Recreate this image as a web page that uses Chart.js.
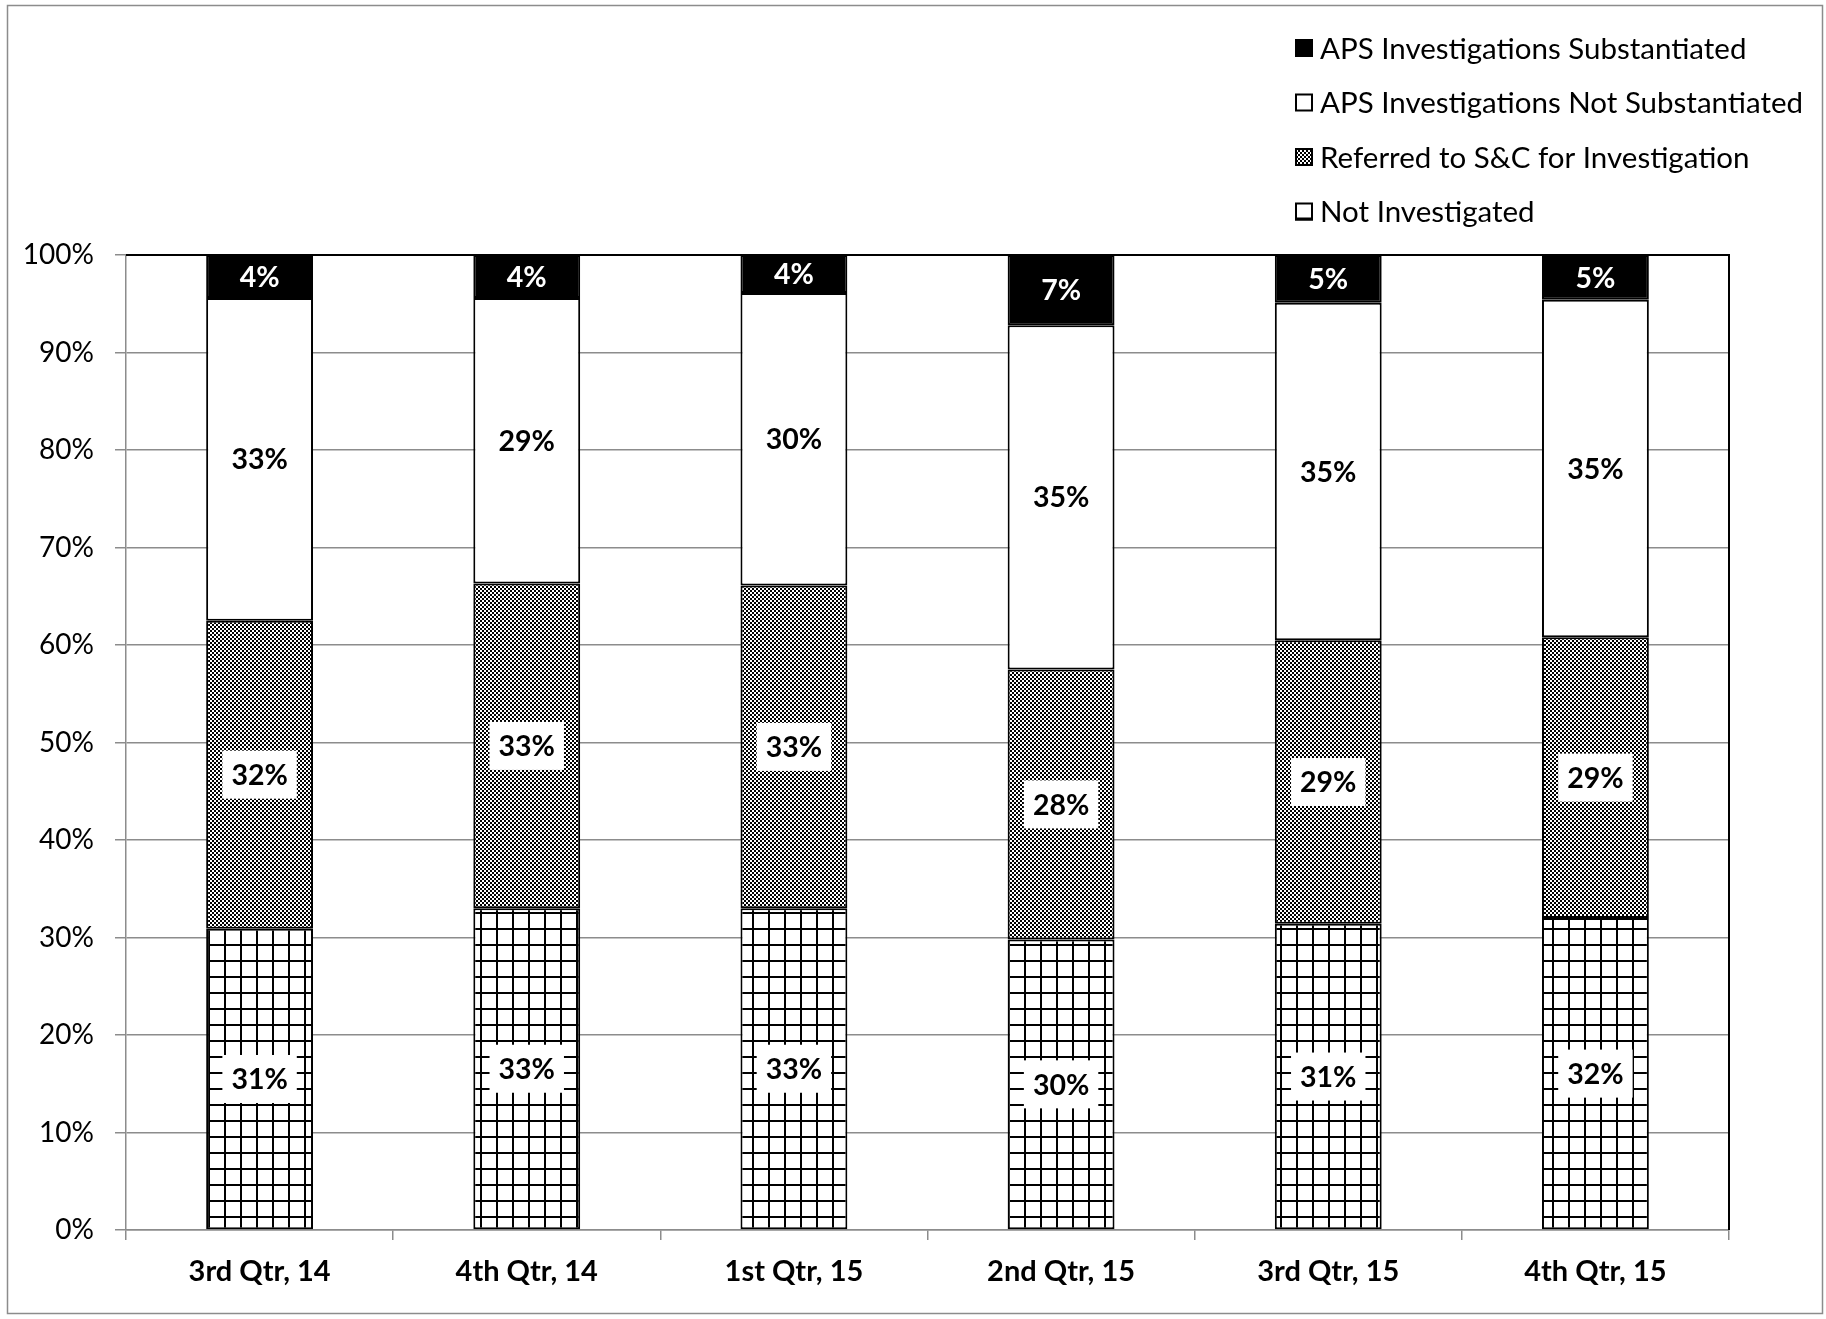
<!DOCTYPE html>
<html>
<head>
<meta charset="utf-8">
<script src="https://cdn.jsdelivr.net/npm/chart.js@4.4.0/dist/chart.umd.min.js"></script>
<style>
  body { margin: 0; background: #fff; }
  #wrap { width: 1826px; height: 1319px; }
</style>
</head>
<body>
<div id="wrap"><canvas id="myChart" width="1826" height="1319"></canvas></div>
<script>
const trimestres = ['3rd Qtr, 14', '4th Qtr, 14', '1st Qtr, 15', '2nd Qtr, 15', '3rd Qtr, 15', '4th Qtr, 15'];
const naoInvestigado = [30.9, 33.0, 33.0, 29.8, 31.4, 32.0];
const encaminhado = [31.6, 33.3, 33.1, 27.7, 29.1, 28.8];
const naoComprovado = [33.1, 29.3, 30.0, 35.3, 34.6, 34.6];
const comprovado = [4.4, 4.4, 3.9, 7.2, 4.9, 4.6];
const ticksY = [0, 10, 20, 30, 40, 50, 60, 70, 80, 90, 100];

const canvas = document.getElementById('myChart');
const ctx = canvas.getContext('2d');

function padraoXadrez() {
  const c = document.createElement('canvas');
  c.width = 4; c.height = 4;
  const g = c.getContext('2d');
  g.fillStyle = '#fff'; g.fillRect(0, 0, 4, 4);
  g.fillStyle = '#000'; g.fillRect(0, 0, 2, 2); g.fillRect(2, 2, 2, 2);
  return ctx.createPattern(c, 'repeat');
}

function padraoGrade() {
  const c = document.createElement('canvas');
  c.width = 16; c.height = 16;
  const g = c.getContext('2d');
  g.fillStyle = '#fff'; g.fillRect(0, 0, 16, 16);
  g.fillStyle = '#000'; g.fillRect(0, 0, 16, 2); g.fillRect(0, 0, 2, 16);
  return ctx.createPattern(c, 'repeat');
}

const xadrez = padraoXadrez();
const grade = padraoGrade();

// moldura, fundo e borda da area do grafico
const moldura = {
  id: 'moldura',
  beforeDraw(chart) {
    const c = chart.ctx;
    c.save();
    c.fillStyle = '#fff';
    c.fillRect(0, 0, chart.width, chart.height);
    c.strokeStyle = '#8c8c8c';
    c.lineWidth = 1.5;
    c.strokeRect(7.5, 5.5, 1815, 1308);
    c.restore();
  },
  beforeDatasetsDraw(chart) {
    const a = chart.chartArea;
    const c = chart.ctx;
    c.save();
    c.strokeStyle = '#000';
    c.lineWidth = 2;
    c.beginPath();
    c.moveTo(a.left, a.top);
    c.lineTo(a.right, a.top);
    c.lineTo(a.right, a.bottom);
    c.stroke();
    c.restore();
  }
};

const rotulos = {
  id: 'rotulos',
  afterDatasetsDraw(chart) {
    const c = chart.ctx;
    c.save();
    c.font = 'bold 28.5px Lato';
    c.textAlign = 'center';
    c.textBaseline = 'middle';
    chart.data.datasets.forEach((ds, i) => {
      const meta = chart.getDatasetMeta(i);
      meta.data.forEach((bar, j) => {
        const texto = Math.round(ds.data[j]) + '%';
        const y = (bar.y + bar.base) / 2;
        if (ds.corTexto !== '#fff') {
          const w = c.measureText(texto).width + 18;
          c.fillStyle = '#fff';
          c.fillRect(bar.x - w / 2, y - 24, w, 48);
        }
        c.fillStyle = ds.corTexto;
        c.fillText(texto, bar.x, y + 1);
      });
    });
    c.restore();
  }
};

const legenda = {
  id: 'legenda',
  afterDraw(chart) {
    const c = chart.ctx;
    const itens = chart.data.datasets.slice().reverse();
    c.save();
    c.font = '29.5px Lato';
    c.textBaseline = 'middle';
    c.textAlign = 'left';
    itens.forEach((ds, k) => {
      const y = 48 + k * 54.5;
      c.fillStyle = ds.corLegenda;
      c.fillRect(1295, y - 9, 18, 18);
      c.strokeStyle = '#000';
      c.lineWidth = 2;
      c.strokeRect(1296, y - 8, 16, 16);
      if (ds.label === 'Not Investigated') {
        c.fillStyle = '#000';
        c.fillRect(1295, y + 6, 18, 3);
      }
      c.fillStyle = '#000';
      c.fillText(ds.label, 1320, y + 1);
    });
    c.restore();
  }
};

new Chart(ctx, {
  type: 'bar',
  data: {
    labels: trimestres,
    datasets: [
      { label: 'Not Investigated', data: naoInvestigado, backgroundColor: grade, corLegenda: '#fff', corTexto: '#000' },
      { label: 'Referred to S&C for Investigation', data: encaminhado, backgroundColor: xadrez, corLegenda: xadrez, corTexto: '#000' },
      { label: 'APS Investigations Not Substantiated', data: naoComprovado, backgroundColor: '#fff', corLegenda: '#fff', corTexto: '#000' },
      { label: 'APS Investigations Substantiated', data: comprovado, backgroundColor: '#000', corLegenda: '#000', corTexto: '#fff' }
    ].map(d => Object.assign(d, {
      borderColor: '#000',
      borderWidth: 2,
      borderSkipped: false,
      barPercentage: 0.4,
      categoryPercentage: 1
    }))
  },
  options: {
    responsive: false,
    animation: false,
    layout: { padding: { top: 255, right: 97, left: 0, bottom: 0 } },
    plugins: {
      legend: { display: false },
      tooltip: { enabled: false }
    },
    scales: {
      x: {
        stacked: true,
        afterFit: s => { s.height = 89; },
        grid: { drawOnChartArea: false, drawTicks: true, tickLength: 10, color: '#8c8c8c', lineWidth: 1.5 },
        border: { color: '#8c8c8c', width: 1.5 },
        ticks: { color: '#000', font: { family: 'Lato', size: 29, weight: 'bold' }, padding: 14 }
      },
      y: {
        stacked: true,
        min: 0,
        max: 100,
        afterFit: s => { s.width = 126; },
        afterBuildTicks: s => { s.ticks = ticksY.map(v => ({ value: v })); },
        grid: { color: '#8c8c8c', lineWidth: 1.5, tickLength: 11 },
        border: { color: '#8c8c8c', width: 1.5 },
        ticks: {
          color: '#000',
          font: { family: 'Lato', size: 28 },
          padding: 21,
          callback: v => v + '%'
        }
      }
    }
  },
  plugins: [moldura, rotulos, legenda]
});
</script>
</body>
</html>
